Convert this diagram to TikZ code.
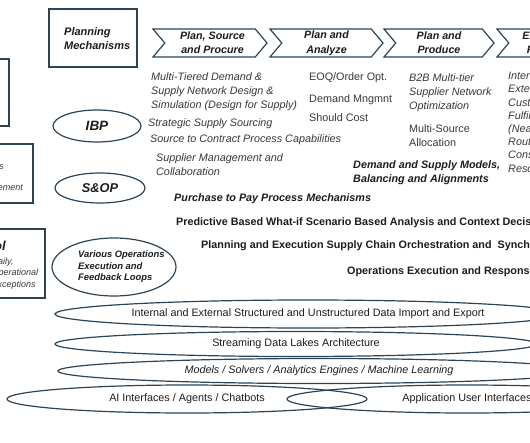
\documentclass[tikz,border=0pt]{standalone}
\usepackage{fontspec}
\setmainfont{Liberation Sans}
\usetikzlibrary{shapes.geometric,shapes.symbols}
\definecolor{slate}{RGB}{44,68,88}
\definecolor{ink}{RGB}{28,28,28}
\definecolor{soft}{RGB}{55,55,55}

\begin{document}
\begin{tikzpicture}[
    x=1pt, y=-1pt,
    frame/.style={draw=slate, line width=1.2pt},
    oval/.style={
        ellipse,
        draw=slate,
        line width=1.2pt,
        inner sep=0pt,
        text=ink,
        font=\fontsize{10.8}{13}\selectfont
    },
    chev/.style={
        signal,
        signal from=west,
        signal to=east,
        signal pointer angle=100,
        draw=slate,
        line width=1.2pt,
        minimum height=28pt,
        minimum width=114pt,
        inner sep=0pt,
        align=center,
        text=ink,
        font=\fontsize{10.7}{14}\selectfont\bfseries\itshape
    },
    txt/.style={inner sep=0pt, align=left, anchor=west, text=soft,
        font=\fontsize{10.8}{14}\selectfont},
    hd/.style={inner sep=0pt, align=left, anchor=west, text=ink,
        font=\fontsize{10.8}{14}\selectfont\bfseries}
]
    \useasboundingbox (0,0) rectangle (530,442);
    \clip (0,0) rectangle (530,442);

    %------------------------------------------------
    % left boxes (cut at the edge)
    %------------------------------------------------
    \draw[frame] (-20,59) rectangle (9,126);
    \draw[frame] (-20,144) rectangle (33,203);
    \draw[frame] (-20,229) rectangle (45,298);

    \node[txt, anchor=east, font=\fontsize{9}{11}\selectfont\itshape] (bx2a) at (4,167) {Operations};
    \node[txt, anchor=east, font=\fontsize{9}{11}\selectfont\itshape] (bx2b) at (23,188) {Management};
    \node[hd, anchor=east, font=\fontsize{13}{15}\selectfont\bfseries\itshape] (bx3h) at (6,246) {Control};
    \node[txt, font=\fontsize{9}{11.5}\selectfont\itshape] (bx3t) at (-8.5,273.5)
    {Daily,\\ Operational\\ Exceptions};

    %------------------------------------------------
    % planning mechanisms
    %------------------------------------------------
    \draw[frame] (49,9) rectangle (137,67);
    \node[hd, font=\fontsize{11}{14}\selectfont\bfseries\itshape] (pm) at (64,39) {Planning\\ Mechanisms};

    \node[oval, minimum width=88pt, minimum height=32pt, font=\fontsize{13.5}{15}\selectfont\bfseries\itshape] (ibp) at (97,126) {IBP};
    \node[oval, minimum width=90pt, minimum height=30pt, font=\fontsize{12.8}{15}\selectfont\bfseries\itshape] (sop) at (100,188) {S\&OP};
    \node[oval, minimum width=124pt, minimum height=58pt] (loops) at (114,267) {};
    \node[hd, font=\fontsize{9.4}{11.5}\selectfont\bfseries\itshape] (loopst) at (78,267)
    {Various Operations\\ Execution and\\ Feedback Loops};

    %------------------------------------------------
    % process chevrons
    %------------------------------------------------
    \node[chev] (plan1) at (210,43) {\hspace{5pt}Plan, Source\\ \hspace{5pt}and Procure};
    \node[chev, minimum width=113pt] (plan2) at (326.5,43) {\raisebox{1pt}{Plan and}\\ Analyze};
    \node[chev, minimum width=110pt] (plan3) at (439,43) {Plan and\\ Produce};
    \node[chev] (plan4) at (554,43) {Execute and\\ Fulfillment};

    %------------------------------------------------
    % capabilities under each step
    %------------------------------------------------
    \node[txt, font=\fontsize{10.8}{14}\selectfont\itshape] (c1a) at (151,92)
    {Multi-Tiered Demand \&\\ Supply Network Design \&\\ Simulation (Design for Supply)};
    \node[txt, font=\fontsize{10.8}{14}\selectfont\itshape] (c1b) at (148,124) {Strategic Supply Sourcing};
    \node[txt, font=\fontsize{10.8}{14}\selectfont\itshape] (c1c) at (150,140) {Source to Contract Process Capabilities};
    \node[txt, font=\fontsize{10.8}{14}\selectfont\itshape] (c1d) at (156,165) {Supplier Management and\\ Collaboration};

    \node[txt] (c2a) at (309,78) {EOQ/Order Opt.};
    \node[txt] (c2b) at (309,100) {Demand Mngmnt};
    \node[txt] (c2c) at (309,118) {Should Cost};

    \node[txt, font=\fontsize{10.8}{14}\selectfont\itshape] (c3a) at (409,93)
    {B2B Multi-tier\\ Supplier Network\\ Optimization};
    \node[txt] (c3b) at (409,136) {Multi-Source\\ Allocation};

    \node[txt, font=\fontsize{10.8}{13.2}\selectfont\itshape] (c4a) at (508,122)
    {Internal \&\\ External\\ Customer\\ Fulfillment\\ (Near Real-Time)\\ Routing\\ Constraint\\ Resolution};

    \node[hd, font=\fontsize{10.8}{14}\selectfont\bfseries\itshape] (models) at (353,173)
    {Demand and Supply Models,\\ Balancing and Alignments};
    \node[hd, font=\fontsize{10.8}{14}\selectfont\bfseries\itshape] (p2p) at (174,199) {Purchase to Pay Process Mechanisms};

    %------------------------------------------------
    % cross-cutting lines
    %------------------------------------------------
    \node[hd] (whatif) at (176,223) {Predictive Based What-if Scenario Based Analysis and Context Decision Making};
    \node[hd] (orch) at (201,246) {Planning and Execution Supply Chain Orchestration and \ Synchronization};
    \node[hd] (resp) at (347,272) {Operations Execution and Response};

    %------------------------------------------------
    % data and interface layers
    %------------------------------------------------
    \node[oval, minimum width=506pt, minimum height=28pt] (data) at (308,314)
    {Internal and External Structured and Unstructured Data Import and Export};
    \node[oval, minimum width=482pt, minimum height=25pt] (lake) at (296,344)
    {Streaming Data Lakes Architecture};
    \node[oval, minimum width=522pt, minimum height=25pt, font=\fontsize{10.8}{13}\selectfont\itshape] (engines) at (319,371)
    {Models / Solvers / Analytics Engines / Machine Learning};
    \node[oval, minimum width=360pt, minimum height=28pt] (ai) at (187,399)
    {AI Interfaces / Agents / Chatbots};
    \node[oval, minimum width=360pt, minimum height=28pt] (ui) at (467,399)
    {Application User Interfaces};

\end{tikzpicture}
\end{document}
